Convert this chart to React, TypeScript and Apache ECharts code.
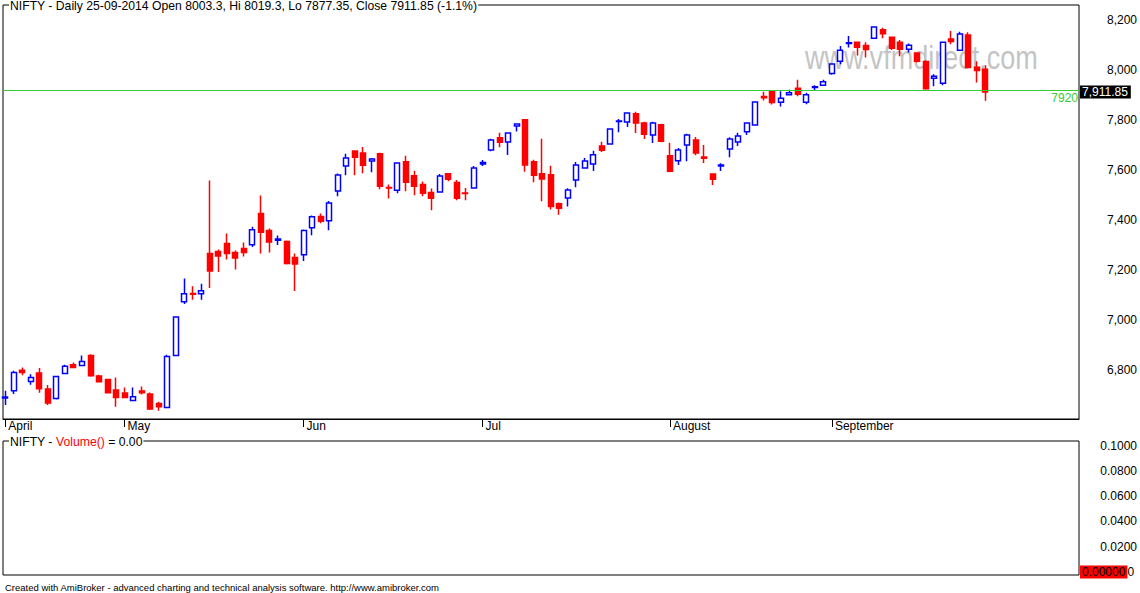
import React, { useEffect, useRef } from 'react';
import * as echarts from 'echarts';

const symbol = 'NIFTY';

const dates = [
  '2014-04-07', '2014-04-09', '2014-04-10', '2014-04-11', '2014-04-15', '2014-04-16', '2014-04-17',
  '2014-04-21', '2014-04-22', '2014-04-23', '2014-04-25', '2014-04-28', '2014-04-29', '2014-04-30',
  '2014-05-02', '2014-05-05', '2014-05-06', '2014-05-07', '2014-05-08', '2014-05-09', '2014-05-12',
  '2014-05-13', '2014-05-14', '2014-05-15', '2014-05-16', '2014-05-19', '2014-05-20', '2014-05-21',
  '2014-05-22', '2014-05-23', '2014-05-26', '2014-05-27', '2014-05-28', '2014-05-29', '2014-05-30',
  '2014-06-02', '2014-06-03', '2014-06-04', '2014-06-05', '2014-06-06', '2014-06-09', '2014-06-10',
  '2014-06-11', '2014-06-12', '2014-06-13', '2014-06-16', '2014-06-17', '2014-06-18', '2014-06-19',
  '2014-06-20', '2014-06-23', '2014-06-24', '2014-06-25', '2014-06-26', '2014-06-27', '2014-06-30',
  '2014-07-01', '2014-07-02', '2014-07-03', '2014-07-04', '2014-07-07', '2014-07-08', '2014-07-09',
  '2014-07-10', '2014-07-11', '2014-07-14', '2014-07-15', '2014-07-16', '2014-07-17', '2014-07-18',
  '2014-07-21', '2014-07-22', '2014-07-23', '2014-07-24', '2014-07-25', '2014-07-28', '2014-07-30',
  '2014-07-31', '2014-08-01', '2014-08-04', '2014-08-05', '2014-08-06', '2014-08-07', '2014-08-08',
  '2014-08-11', '2014-08-12', '2014-08-13', '2014-08-14', '2014-08-18', '2014-08-19', '2014-08-20',
  '2014-08-21', '2014-08-22', '2014-08-25', '2014-08-26', '2014-08-27', '2014-08-28', '2014-09-01',
  '2014-09-02', '2014-09-03', '2014-09-04', '2014-09-05', '2014-09-08', '2014-09-09', '2014-09-10',
  '2014-09-11', '2014-09-12', '2014-09-15', '2014-09-16', '2014-09-17', '2014-09-18', '2014-09-19',
  '2014-09-22', '2014-09-23', '2014-09-24', '2014-09-25',
];

const opens = [
  6688, 6717, 6799, 6754, 6788, 6724, 6686, 6786, 6821, 6818, 6858, 6776, 6762, 6720,
  6708, 6678, 6716, 6704, 6666, 6650, 6858, 7073, 7106, 7105, 7266, 7274, 7306, 7270,
  7286, 7301, 7426, 7358, 7319, 7314, 7250,
  7261, 7369, 7414, 7397, 7516, 7616, 7676, 7668, 7636, 7665, 7530, 7519, 7633, 7577,
  7542, 7510, 7512, 7585, 7550, 7508, 7528,
  7624, 7680, 7729, 7712, 7776, 7801, 7633, 7585, 7581, 7465, 7488, 7560, 7608, 7624,
  7696, 7704, 7794, 7792, 7825, 7788, 7740, 7781,
  7657, 7637, 7700, 7720, 7652, 7584, 7616, 7684, 7712, 7753, 7780, 7894, 7915, 7871,
  7901, 7927, 7871, 7930, 7939,
  7986, 8035, 8106, 8111, 8098, 8127, 8161, 8131, 8111, 8083, 8068, 8034, 7967, 7947,
  8124, 8079, 8140, 8011, 8003.3,
];

const highs = [
  6717, 6797, 6810, 6783, 6808, 6740, 6777, 6821, 6830, 6858, 6863, 6781, 6764, 6770,
  6730, 6730, 6734, 6710, 6673, 6861, 7014, 7166, 7135, 7145, 7558, 7282, 7346, 7278,
  7310, 7373, 7498, 7366, 7338, 7318, 7266,
  7362, 7418, 7426, 7476, 7586, 7665, 7678, 7692, 7648, 7669, 7542, 7631, 7657, 7597,
  7554, 7526, 7584, 7587, 7560, 7528, 7616,
  7640, 7725, 7749, 7750, 7787, 7803, 7641, 7725, 7617, 7470, 7527, 7632, 7648, 7677,
  7713, 7766, 7804, 7830, 7833, 7793, 7793, 7785,
  7709, 7688, 7745, 7732, 7700, 7586, 7627, 7731, 7749, 7790, 7874, 7913, 7917, 7915,
  7921, 7961, 7909, 7939, 7961,
  8026, 8096, 8136, 8113, 8111, 8174, 8169, 8133, 8120, 8106, 8070, 8039, 7983, 8113,
  8156, 8153, 8151, 8035, 8019.3,
];

const lows = [
  6660, 6704, 6779, 6741, 6709, 6660, 6682, 6785, 6807, 6817, 6773, 6750, 6706, 6653,
  6689, 6677, 6702, 6640, 6637, 6648, 6856, 7064, 7081, 7081, 7128, 7192, 7242, 7202,
  7254, 7292, 7266, 7270, 7300, 7222, 7116,
  7236, 7339, 7387, 7359, 7495, 7579, 7579, 7587, 7591, 7523, 7486, 7507, 7515, 7499,
  7495, 7439, 7510, 7555, 7479, 7479, 7526,
  7616, 7675, 7691, 7660, 7754, 7593, 7551, 7475, 7442, 7421, 7454, 7531, 7606, 7596,
  7672, 7702, 7751, 7772, 7748, 7724, 7708, 7711,
  7591, 7620, 7635, 7659, 7628, 7540, 7596, 7651, 7696, 7740, 7778, 7878, 7862, 7854,
  7899, 7895, 7863, 7918, 7937,
  7981, 8023, 8090, 8058, 8050, 8125, 8127, 8080, 8055, 8070, 8030, 7921, 7935, 7939,
  8103, 8077, 8008, 7950, 7877.35,
];

const closes = [
  6692, 6790, 6790, 6770, 6725, 6668, 6774, 6815, 6810, 6834, 6777, 6753, 6709, 6690,
  6690, 6693, 6709, 6644, 6653, 6854, 7012, 7105, 7103, 7117, 7196, 7256, 7266, 7248,
  7270, 7361, 7351, 7312, 7324, 7226, 7224,
  7358, 7413, 7395, 7468, 7580, 7648, 7651, 7619, 7644, 7535, 7528, 7628, 7551, 7535,
  7507, 7487, 7576, 7563, 7487, 7506, 7608,
  7630, 7720, 7711, 7748, 7784, 7620, 7579, 7564, 7454, 7447, 7520, 7620, 7636, 7661,
  7679, 7764, 7796, 7828, 7788, 7743, 7788, 7715,
  7595, 7680, 7740, 7668, 7647, 7563, 7620, 7724, 7736, 7788, 7872, 7889, 7870, 7887,
  7909, 7903, 7901, 7933, 7953,
  8024, 8079, 8109, 8091, 8082, 8172, 8145, 8087, 8083, 8099, 8035, 7925, 7975, 8111,
  8114, 8144, 8010, 7998, 7911.85,
];

const volumes = dates.map(() => 0);

const monthNames = ['April', 'May', 'Jun', 'Jul', 'August', 'September'];
const priceTicks = [6800, 7000, 7200, 7400, 7600, 7800, 8000, 8200];
const volumeTicks = [0.02, 0.04, 0.06, 0.08, 0.1];
const referenceLevel = 7920;

const FONT = 'Liberation Sans, Arial, sans-serif';

export default function App() {
  const ref = useRef<HTMLDivElement>(null);

  useEffect(() => {
    if (!ref.current) return;
    const chart = echarts.init(ref.current, null, { renderer: 'svg' });

    const n = dates.length;
    const candleData = dates.map((_, i) => [i, opens[i], closes[i], lows[i], highs[i]]);
    const volData = volumes.map((v, i) => [i, v]);

    const monthStarts: number[] = [];
    dates.forEach((d, i) => {
      if (i === 0 || d.slice(5, 7) !== dates[i - 1].slice(5, 7)) monthStarts.push(i);
    });
    const monthLabel: Record<number, string> = {};
    monthStarts.forEach((idx, k) => { monthLabel[idx] = monthNames[k]; });

    const last = n - 1;
    const [yy, mm, dd] = dates[last].split('-');
    const pct = ((closes[last] - closes[last - 1]) / closes[last - 1]) * 100;
    const titleText = `${symbol} - Daily ${dd}-${mm}-${yy} Open ${opens[last]}, Hi ${highs[last]}, Lo ${lows[last]}, Close ${closes[last]} (${pct.toFixed(1)}%)`;
    const closeTag = closes[last].toLocaleString('en-US', { minimumFractionDigits: 2, maximumFractionDigits: 2 });
    const lastVolume = volumes[last];

    const xMin = -0.27;
    const xMax = 126;
    const hiddenLine = { color: 'rgba(0,0,0,0)', width: 1, type: 'solid' };

    const option: any = {
      animation: false,
      backgroundColor: '#ffffff',
      textStyle: { fontFamily: FONT },
      title: [
        {
          text: titleText,
          left: 9,
          top: -1,
          padding: [0, 1],
          backgroundColor: '#ffffff',
          textStyle: { fontSize: 12.2, fontWeight: 'normal', color: '#000', fontFamily: FONT, lineHeight: 14 },
        },
        {
          text: `{b|${symbol} - }{r|Volume()}{b| = ${lastVolume.toFixed(2)}}`,
          left: 9,
          top: 435,
          padding: [0, 1],
          backgroundColor: '#ffffff',
          textStyle: {
            fontSize: 12, fontWeight: 'normal', color: '#000', fontFamily: FONT, lineHeight: 14,
            rich: {
              b: { fontSize: 12.2, color: '#000', fontFamily: FONT, lineHeight: 14 },
              r: { fontSize: 12.2, color: '#ff0000', fontFamily: FONT, lineHeight: 14 },
            },
          },
        },
      ],
      graphic: [
        {
          type: 'text',
          x: 805,
          y: 58,
          scaleX: 0.82,
          z: 0,
          silent: true,
          style: {
            text: 'www.vfmdirect.com',
            fontSize: 33,
            fontFamily: FONT,
            fill: '#c4c4c4',
            verticalAlign: 'middle',
          },
        },
        {
          type: 'text',
          x: 5,
          y: 587,
          style: {
            text: 'Created with AmiBroker - advanced charting and technical analysis software. http://www.amibroker.com',
            fontSize: 9.5,
            fontFamily: FONT,
            fill: '#000',
            verticalAlign: 'middle',
          },
        },
      ],
      grid: [
        { left: 3, top: 5, width: 1076, height: 414, show: true, borderColor: '#000', borderWidth: 1, backgroundColor: 'transparent' },
        { left: 3, top: 441, width: 1076, height: 134, show: true, borderColor: '#000', borderWidth: 1, backgroundColor: 'transparent' },
      ],
      xAxis: [
        {
          type: 'value',
          gridIndex: 0,
          min: xMin,
          max: xMax,
          axisLine: { show: true, lineStyle: { color: '#000', width: 1 } },
          axisTick: { show: true, customValues: monthStarts, length: 8, lineStyle: { color: '#000', width: 1 } },
          axisLabel: {
            show: true,
            customValues: monthStarts,
            formatter: (v: number) => monthLabel[Math.round(v)] || '',
            align: 'left',
            margin: 1,
            padding: [0, 0, 0, 3],
            fontSize: 12,
            color: '#000',
            fontFamily: FONT,
          },
          splitLine: { show: false },
        },
        {
          type: 'value',
          gridIndex: 1,
          min: xMin,
          max: xMax,
          axisLine: { show: false },
          axisTick: { show: false },
          axisLabel: { show: false },
          splitLine: { show: false },
        },
      ],
      yAxis: [
        {
          type: 'value',
          gridIndex: 0,
          position: 'right',
          min: 6604,
          max: 8260,
          axisLine: { show: false },
          axisTick: { show: false },
          splitLine: { show: false },
          axisLabel: {
            customValues: priceTicks,
            formatter: (v: number) => v.toLocaleString('en-US'),
            align: 'right',
            margin: 58,
            fontSize: 12,
            color: '#000',
            fontFamily: FONT,
          },
        },
        {
          type: 'value',
          gridIndex: 1,
          position: 'right',
          min: -0.0024,
          max: 0.1037,
          axisLine: { show: false },
          axisTick: { show: false },
          splitLine: { show: false },
          axisLabel: {
            customValues: volumeTicks,
            formatter: (v: number) => v.toFixed(4),
            align: 'right',
            margin: 58,
            fontSize: 12,
            color: '#000',
            fontFamily: FONT,
          },
        },
      ],
      series: [
        {
          type: 'candlestick',
          xAxisIndex: 0,
          yAxisIndex: 0,
          data: candleData,
          barWidth: 5.5,
          itemStyle: {
            color: '#ffffff',
            color0: '#ff0000',
            borderColor: '#0000ff',
            borderColor0: '#ff0000',
            borderWidth: 1.5,
          },
          markLine: {
            silent: true,
            symbol: ['none', 'none'],
            animation: false,
            data: [
              {
                yAxis: referenceLevel,
                lineStyle: { color: '#33cc33', width: 1, type: 'solid' },
                label: {
                  show: true,
                  position: 'insideEndBottom',
                  formatter: String(referenceLevel),
                  color: '#33cc33',
                  fontSize: 12,
                  fontFamily: FONT,
                  distance: [1, 2],
                },
              },
              {
                yAxis: closes[last],
                lineStyle: hiddenLine,
                label: {
                  show: true,
                  position: 'end',
                  formatter: closeTag,
                  color: '#ffffff',
                  backgroundColor: '#000000',
                  padding: [1, 3, 0, 2],
                  fontSize: 12,
                  fontFamily: FONT,
                  distance: 1,
                },
              },
            ],
          },
        },
        {
          type: 'bar',
          xAxisIndex: 1,
          yAxisIndex: 1,
          data: volData,
          barWidth: 5,
          itemStyle: { color: '#0000ff' },
          markLine: {
            silent: true,
            symbol: ['none', 'none'],
            animation: false,
            data: [
              {
                yAxis: lastVolume,
                lineStyle: hiddenLine,
                label: {
                  show: true,
                  position: 'end',
                  formatter: `{box|${lastVolume.toFixed(5)}}{t|0}`,
                  distance: 1,
                  rich: {
                    box: {
                      color: '#000000',
                      backgroundColor: '#ff0000',
                      padding: [1, 2, 0, 2],
                      fontSize: 12,
                      fontFamily: FONT,
                    },
                    t: {
                      color: '#000000',
                      fontSize: 12,
                      fontFamily: FONT,
                    },
                  },
                },
              },
            ],
          },
        },
      ],
    };

    chart.setOption(option);
    return () => chart.dispose();
  }, []);

  return (
    <div
      ref={ref}
      style={{ position: 'fixed', left: 0, top: 0, width: 1140, height: 593, background: '#fff' }}
    />
  );
}
